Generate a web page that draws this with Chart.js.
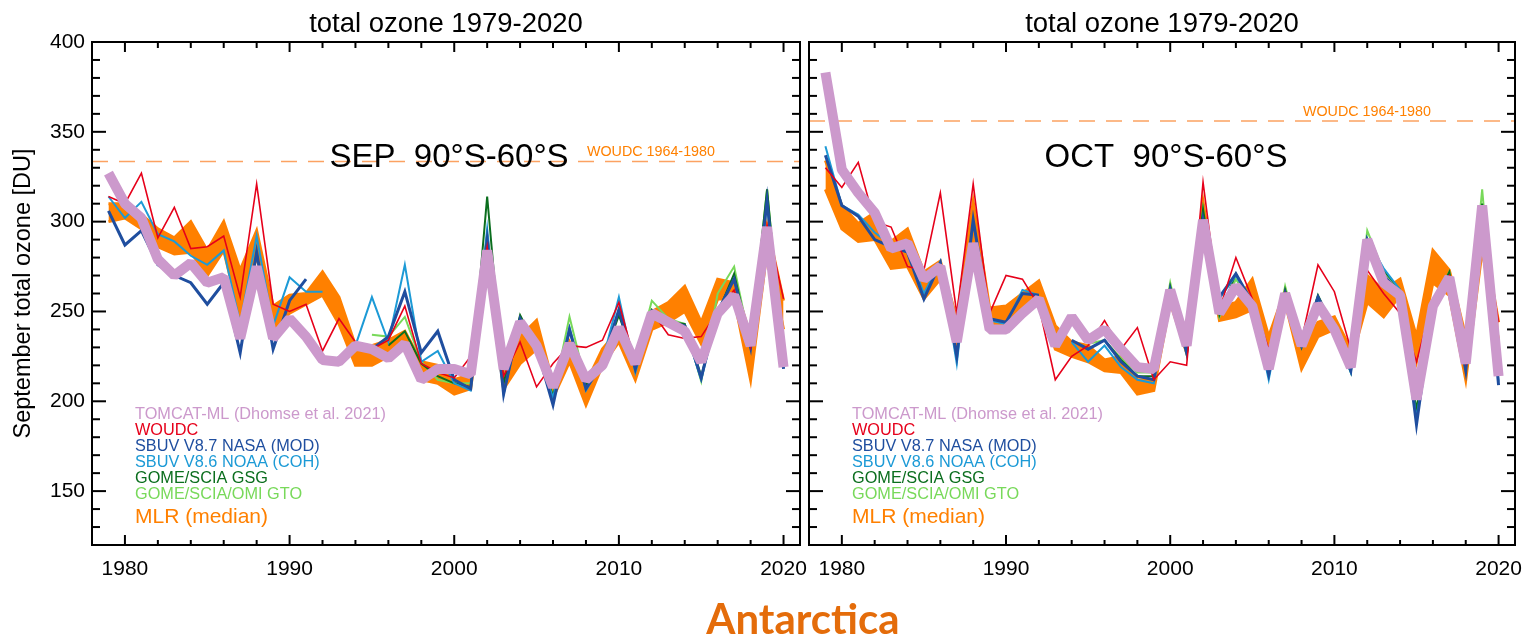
<!DOCTYPE html>
<html>
<head>
<meta charset="utf-8">
<script src="https://cdn.jsdelivr.net/npm/chart.js@4.4.0/dist/chart.umd.min.js"></script>
<style>
  body { margin: 0; background: #fff; width: 1524px; height: 642px; overflow: hidden; position: relative; }
  #cSep { position: absolute; left: 0; top: 0; }
  #cOct { position: absolute; left: 800px; top: 0; }
  #region { position: absolute; left: 603px; top: 597px; width: 400px; text-align: center;
    font: bold 42px Lato, 'Open Sans', sans-serif; line-height: 42px; color: #e46c0a; }
</style>
</head>
<body>
<canvas id="cSep" width="812" height="642"></canvas>
<canvas id="cOct" width="724" height="642"></canvas>
<div id="region">Antarctica</div>
<script>
// years 1979-2020
const years = [1979, 1980, 1981, 1982, 1983, 1984, 1985, 1986, 1987, 1988, 1989, 1990, 1991, 1992,
  1993, 1994, 1995, 1996, 1997, 1998, 1999, 2000, 2001, 2002, 2003, 2004, 2005, 2006,
  2007, 2008, 2009, 2010, 2011, 2012, 2013, 2014, 2015, 2016, 2017, 2018, 2019, 2020];
const xTickLabels = [1980, 1990, 2000, 2010, 2020];
const yTickLabels = [150, 200, 250, 300, 350, 400];

// ---- September ----
const tomcatSep = [327, 310, 302, 279, 270, 277, 266, 269, 235, 275, 235, 246, 236, 223,
  222, 231, 229, 224, 232, 212, 218, 218, 215, 284, 218, 244, 231, 208,
  232, 212, 220, 241, 221, 249, 244, 239, 222, 249, 259, 231, 297, 219];
const woudcSep = [314, 310, 327, 291, 308, 285, 286, 292, 258, 321, 254, 250, 254, 228,
  246, 233, 229, 234, 253, 221, 216, 213, 225, 286, 214, 233, 208, 221,
  231, 230, 234, 255, 221, 250, 237, 235, 236, 250, 262, 230, 298, 257];
const sbuvModSep = [306, 287, 295, 276, 270, 266, 254, 266, 227, 283, 229, 256, 268, null,
  null, null, 229, 236, 261, 227, 239, 212, 207, 290, 204, 246, 230, 198,
  240, 207, 221, 251, 218, 250, 244, 242, 213, 250, 268, 230, 312, 218];
const sbuvCohSep = [314, 302, 311, 293, 289, 281, 276, 284, 243, 292, 242, 269, 261, 261,
  null, 231, 258, 233, 276, 222, 228, 210, 206, 296, 204, 245, 230, 202,
  241, 206, 222, 258, 216, 248, 245, 241, 212, 250, 268, 230, 310, 220];
const gsgSep = [null, null, null, null, null, null, null, null, null, null, null, null, null, null,
  null, null, null, 231, 239, 221, 214, 210, 208, 314, 210, 248, 230, 203,
  239, 209, 222, 248, 222, 251, 244, 243, 214, 249, 271, 231, 318, 220];
const gtoSep = [null, null, null, null, null, null, null, null, null, null, null, null, null, null,
  null, null, 237, 236, 247, 222, 212, 210, 210, 290, 212, 247, 230, 203,
  247, 210, 220, 251, 221, 256, 246, 243, 211, 260, 275, 231, 318, 220];
const mlrSepHi = [310, 310, 304, 296, 291, 300, 284, 300, 273, 295, 253, 259, 260, 272,
  258, 231, 231, 234, 239, 222, 220, 212, 215, 291, 221, 236, 245, 210,
  233, 210, 229, 240, 223, 250, 255, 264, 244, 268, 266, 236, 298, 256];
const mlrSepLo = [300, 302, 296, 286, 282, 283, 270, 284, 246, 281, 240, 249, 254, 259,
  243, 220, 220, 225, 229, 212, 210, 204, 207, 276, 207, 221, 229, 202,
  222, 198, 220, 233, 212, 240, 244, 250, 232, 257, 257, 212, 284, 240];
const woudcRefSep = 333.5;

// ---- October ----
const tomcatOct = [383, 329, 316, 305, 285, 288, 268, 275, 233, 288, 240, 240, 249, 257,
  231, 247, 234, 240, 229, 219, 218, 262, 231, 301, 249, 264, 253, 218,
  260, 231, 254, 240, 219, 290, 266, 259, 201, 253, 269, 221, 309, 214];
const woudcOct = [330, 319, 333, 300, 297, 275, 273, 316, 249, 321, 249, 270, 268, 253,
  212, 225, 231, 245, 229, 241, 212, 222, 220, 322, 251, 280, 257, 229,
  260, 234, 276, 261, 229, 273, 260, 249, 222, 256, 270, 222, 300, 244];
const sbuvModOct = [337, 309, 303, 290, 286, 283, 257, 277, 225, 301, 246, 244, 260, 259,
  null, 234, 229, 234, 222, 214, 212, 262, 227, 301, 258, 271, 255, 215,
  260, 231, 258, 240, 217, 290, 270, 260, 187, 253, 268, 217, 308, 209];
const sbuvCohOct = [342, 309, 304, 294, 287, 284, 260, 278, 221, 300, 245, 243, 262, 259,
  null, 233, 222, 231, 219, 212, 210, 262, 228, 300, 257, 270, 254, 212,
  260, 231, 256, 240, 216, 290, 274, 262, 190, 253, 268, 218, 308, 211];
const gsgOct = [null, null, null, null, null, null, null, null, null, null, null, null, null, null,
  null, null, null, 234, 223, 214, 214, 264, 229, 307, 248, 271, 254, 215,
  262, 230, 259, 240, 218, 290, 273, 262, 195, 253, 272, 220, 310, 214];
const gtoOct = [null, null, null, null, null, null, null, null, null, null, null, null, null, null,
  null, null, 232, 234, 224, 216, 216, 266, 226, 307, 247, 268, 254, 215,
  264, 230, 257, 240, 216, 295, 272, 262, 194, 254, 272, 220, 318, 214];
const mlrOctHi = [334, 309, 299, 305, 289, 296, 272, 278, 246, 311, 252, 253, 260, 267,
  242, 233, 231, 223, 225, 212, 212, 262, 234, 311, 252, 255, 268, 236,
  262, 229, 244, 247, 229, 270, 262, 268, 236, 284, 273, 236, 296, 244];
const mlrOctLo = [318, 296, 289, 290, 274, 275, 257, 268, 231, 294, 239, 242, 252, 257,
  229, 225, 222, 217, 216, 204, 206, 255, 227, 294, 245, 247, 251, 222,
  255, 218, 236, 240, 222, 255, 247, 259, 222, 266, 259, 212, 284, 234];
const woudcRefOct = 356;

const legendItems = [
  ['TOMCAT-ML (Dhomse et al. 2021)', '#cc99cc'],
  ['WOUDC', '#e6001a'],
  ['SBUV V8.7 NASA (MOD)', '#1f4e9f'],
  ['SBUV V8.6 NOAA (COH)', '#1c9ad6'],
  ['GOME/SCIA GSG', '#0b6e1e'],
  ['GOME/SCIA/OMI GTO', '#78d95a']
];

const FONT = "'Liberation Sans', Arial, sans-serif";
Chart.defaults.font.family = FONT;
Chart.defaults.color = '#000';

function pts(arr) {
  return years.map((yr, i) => ({ x: yr, y: arr[i] }));
}

function line(ctx, x1, y1, x2, y2) {
  ctx.beginPath(); ctx.moveTo(x1, y1); ctx.lineTo(x2, y2); ctx.stroke();
}

function text(ctx, s, x, y, size, color, align) {
  ctx.font = size + 'px ' + FONT;
  ctx.fillStyle = color;
  ctx.textAlign = align || 'left';
  ctx.textBaseline = 'alphabetic';
  ctx.fillText(s, x, y);
}

// frame, inward ticks and all the annotation text
const deco = {
  id: 'deco',
  afterDraw(chart, args, o) {
    const ctx = chart.ctx, a = chart.chartArea;
    const xs = chart.scales.x, ys = chart.scales.y;
    ctx.save();
    ctx.strokeStyle = '#000';
    ctx.lineWidth = 2;
    ctx.strokeRect(a.left, a.top, a.right - a.left, a.bottom - a.top);
    xs.ticks.forEach(t => {
      const v = t.value;
      if (v <= xs.min || v >= xs.max) return;
      const px = xs.getPixelForValue(v);
      const major = v % 10 === 0;
      line(ctx, px, a.bottom, px, a.bottom - (major ? 10 : 5));
      line(ctx, px, a.top, px, a.top + (major ? 10 : 6));
    });
    ys.ticks.forEach(t => {
      const v = t.value;
      if (v <= ys.min || v >= ys.max) return;
      const py = ys.getPixelForValue(v);
      const len = v % 50 === 0 ? 14 : 8;
      line(ctx, a.left, py, a.left + len, py);
      line(ctx, a.right, py, a.right - len, py);
    });

    const cx = (a.left + a.right) / 2;
    text(ctx, 'total ozone 1979-2020', cx, 32, 27.5, '#000', 'center');
    text(ctx, o.region, a.left + 357, 167, 33, '#000', 'center');
    text(ctx, 'WOUDC 1964-1980', a.left + o.refLabelX, ys.getPixelForValue(o.refValue) - 5, 14.3, '#ff8000');

    legendItems.forEach((it, i) => {
      text(ctx, it[0], a.left + 43, 419 + i * 16, 16.3, it[1]);
    });
    text(ctx, 'MLR (median)', a.left + 43, 523, 21, '#ff8000');

    if (o.yTitle) {
      ctx.translate(30, (a.top + a.bottom) / 2);
      ctx.rotate(-Math.PI / 2);
      text(ctx, o.yTitle, 0, 0, 23.5, '#000', 'center');
    }
    ctx.restore();
  }
};

function makeChart(id, d, o) {
  const thin = (label, data, color, w) => ({
    label, data: pts(data), borderColor: color, borderWidth: w,
    pointRadius: 0, fill: false, tension: 0
  });
  return new Chart(document.getElementById(id), {
    type: 'line',
    data: {
      datasets: [
        { label: 'TOMCAT-ML', data: pts(d.tomcat), borderColor: '#cc99cc', borderWidth: 10,
          borderJoinStyle: 'bevel', pointRadius: 0, fill: false },
        thin('WOUDC', d.woudc, '#e6001a', 1.6),
        thin('SBUV V8.7 NASA (MOD)', d.mod, '#1f4e9f', 3),
        thin('SBUV V8.6 NOAA (COH)', d.coh, '#1c9ad6', 2),
        thin('GOME/SCIA GSG', d.gsg, '#0b6e1e', 2),
        thin('GOME/SCIA/OMI GTO', d.gto, '#78d95a', 2),
        { label: 'WOUDC 1964-1980', data: [{ x: 1978, y: d.ref }, { x: 2021, y: d.ref }],
          borderColor: '#fca262', borderWidth: 1.5, borderDash: [16, 11], pointRadius: 0, fill: false },
        { label: 'MLR hi', data: pts(d.hi), borderColor: '#ff8000', backgroundColor: '#ff8000',
          borderWidth: 3, pointRadius: 0, fill: { target: 8 } },
        { label: 'MLR lo', data: pts(d.lo), borderColor: '#ff8000', borderWidth: 3,
          pointRadius: 0, fill: false }
      ]
    },
    options: {
      responsive: false,
      animation: false,
      events: [],
      layout: { padding: { left: 0, top: 42, right: o.padRight, bottom: 0 } },
      scales: {
        x: {
          type: 'linear', min: 1978, max: 2021,
          grid: { display: false, drawTicks: false },
          border: { display: false },
          afterFit: s => { s.height = 97; s.paddingLeft = 0; s.paddingRight = 0; },
          // tick every two years, labels only on the decades
          afterBuildTicks: s => {
            const t = [];
            for (let v = 1980; v <= 2020; v += 2) t.push({ value: v });
            s.ticks = t;
          },
          ticks: {
            autoSkip: false, maxRotation: 0, padding: 12,
            font: { size: 21 },
            callback: v => xTickLabels.includes(v) ? String(v) : ''
          }
        },
        y: {
          min: 120, max: 400,
          grid: { display: false, drawTicks: false },
          border: { display: false },
          afterFit: s => { s.width = o.yWidth; s.paddingTop = 0; s.paddingBottom = 0; },
          ticks: {
            display: o.yLabels, stepSize: 10, autoSkip: false, padding: 7,
            font: { size: 21 },
            callback: v => yTickLabels.includes(v) ? String(v) : ''
          }
        }
      },
      plugins: {
        legend: { display: false },
        tooltip: { enabled: false },
        deco: o
      }
    },
    plugins: [deco]
  });
}

makeChart('cSep', {
  tomcat: tomcatSep, woudc: woudcSep, mod: sbuvModSep, coh: sbuvCohSep,
  gsg: gsgSep, gto: gtoSep, hi: mlrSepHi, lo: mlrSepLo, ref: woudcRefSep
}, {
  padRight: 12, yWidth: 92, yLabels: true, region: 'SEP  90°S-60°S',
  refValue: woudcRefSep, refLabelX: 495, yTitle: 'September total ozone [DU]'
});

makeChart('cOct', {
  tomcat: tomcatOct, woudc: woudcOct, mod: sbuvModOct, coh: sbuvCohOct,
  gsg: gsgOct, gto: gtoOct, hi: mlrOctHi, lo: mlrOctLo, ref: woudcRefOct
}, {
  padRight: 9, yWidth: 9, yLabels: false, region: 'OCT  90°S-60°S',
  refValue: woudcRefOct, refLabelX: 494, yTitle: null
});
</script>
</body>
</html>
